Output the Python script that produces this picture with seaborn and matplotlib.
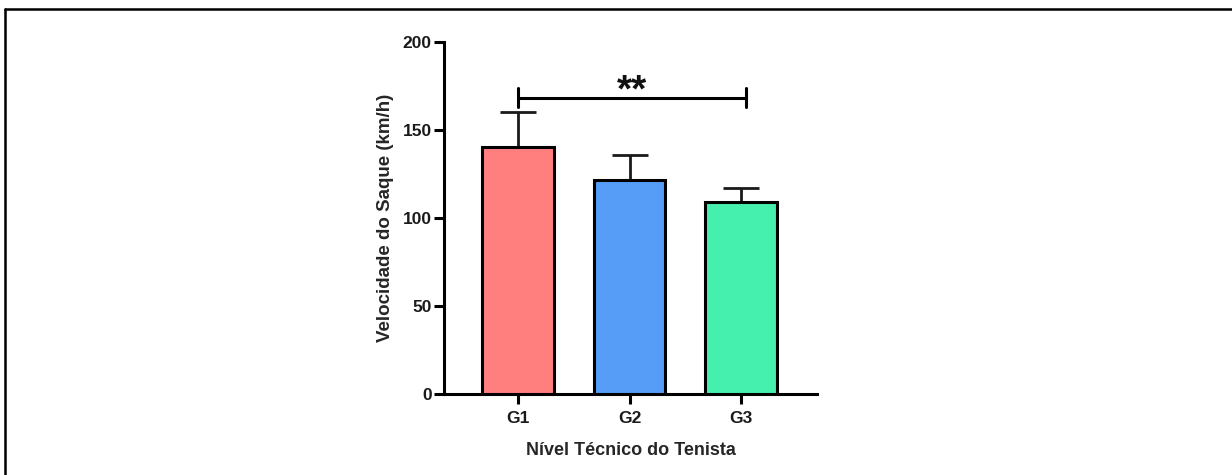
import matplotlib
matplotlib.use("Agg")
import matplotlib.pyplot as plt
from matplotlib.lines import Line2D
import seaborn as sns
import pandas as pd

# dados
grupos = ["G1", "G2", "G3"]
medias = [140.2, 121.6, 109.1]
desvios = [20.2, 14.0, 7.8]
cores = ["#FF7E7E", "#559DF6", "#45EFAE"]

sig_y = 168
sig_texto = "**"

sns.set_theme(style="ticks")
plt.rcParams["font.family"] = ["Liberation Sans", "DejaVu Sans"]
plt.rcParams["font.weight"] = "bold"

df = pd.DataFrame({"grupo": grupos, "media": medias})

fig = plt.figure(figsize=(12.32, 4.75), dpi=100)
ax = fig.add_axes([0.3604, 0.1705, 0.3027, 0.7411])

sns.barplot(data=df, x="grupo", y="media", hue="grupo", palette=cores,
            saturation=1, width=0.64, edgecolor="black", linewidth=2.2,
            legend=False, errorbar=None, ax=ax, zorder=3)

# barras de erro (so para cima)
ax.errorbar(range(len(grupos)), medias, yerr=[[0] * len(desvios), desvios],
            fmt="none", ecolor="#1a1a1a", elinewidth=2.0, capsize=13,
            capthick=2.0, zorder=2)

# significancia G1 vs G3
ax.plot([0, 2.04], [sig_y, sig_y], color="black", lw=2.2, clip_on=False)
for xx in [0, 2.04]:
    ax.plot([xx, xx], [sig_y - 4.7, sig_y + 5.9], color="black", lw=2.2, clip_on=False)
ax.text(1.02, sig_y - 2.0, sig_texto, ha="center", va="baseline", fontsize=28,
        fontweight="bold", color="#111111")

ax.set_ylim(0, 200)
ax.set_yticks([0, 50, 100, 150, 200])
ax.set_xlim(-0.664, 2.68)

ax.set_xlabel("Nível Técnico do Tenista", fontsize=13, fontweight="bold", labelpad=12)
ax.set_ylabel("Velocidade do Saque (km/h)", fontsize=13.5, fontweight="bold", labelpad=6)

for s in ["top", "right"]:
    ax.spines[s].set_visible(False)
for s in ["left", "bottom"]:
    ax.spines[s].set_linewidth(2.2)
    ax.spines[s].set_color("black")
ax.tick_params(axis="both", width=2.2, length=7, labelsize=12.5, color="black",
               labelcolor="#1a1a1a")
ax.tick_params(axis="x", pad=5)
ax.tick_params(axis="y", pad=2)
for lab in ax.get_xticklabels() + ax.get_yticklabels():
    lab.set_fontweight("bold")

# moldura cortada da imagem original
fig.add_artist(Line2D([5 / 1232, 1], [1 - 9 / 475, 1 - 9 / 475], color="black", lw=1.8))
fig.add_artist(Line2D([5 / 1232, 5 / 1232], [0, 1 - 9 / 475], color="black", lw=1.8))

fig.savefig("out.png", dpi=100)
